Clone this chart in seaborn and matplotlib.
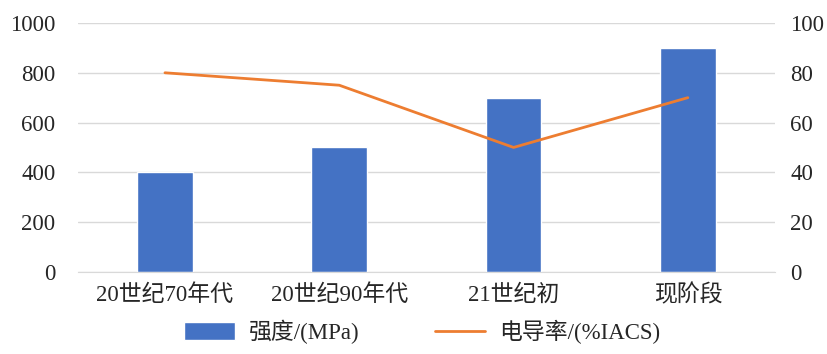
import matplotlib
matplotlib.use('Agg')
import matplotlib.pyplot as plt
import seaborn as sns
import pandas as pd
from matplotlib.patches import Patch
from matplotlib.lines import Line2D

# chart data
categories = ['20世纪70年代', '20世纪90年代', '21世纪初', '现阶段']
strength = [400, 500, 700, 900]        # MPa, left axis
conductivity = [80, 75, 50, 70]        # %IACS, right axis
left_ticks = [0, 200, 400, 600, 800, 1000]
right_ticks = [0, 20, 40, 60, 80, 100]

sns.set_style('white')
plt.rcParams['font.family'] = ['Liberation Serif', 'Noto Sans CJK SC']

df = pd.DataFrame({'period': categories, 'strength': strength, 'cond': conductivity})

fig = plt.figure(figsize=(8.28, 3.54), dpi=100)
ax = fig.add_axes([0.094, 0.232, 0.842, 0.703])

sns.barplot(x='period', y='strength', data=df, color='#4472C4', width=0.32,
            saturation=1, ax=ax, zorder=2)
ax.set_ylim(0, 1000)
ax.set_yticks(left_ticks)
ax.yaxis.grid(True, color='#D9D9D9', linewidth=1, zorder=0)
ax.set_axisbelow(True)
ax.set_xlabel('')
ax.set_ylabel('')
ax.tick_params(axis='x', length=0, labelsize=16.5, pad=9)
ax.tick_params(axis='y', length=0, labelsize=16.5, pad=16)
for s in ['top', 'left', 'right']:
    ax.spines[s].set_visible(False)
ax.spines['bottom'].set_color('#D9D9D9')

ax2 = ax.twinx()
sns.pointplot(x='period', y='cond', data=df, color='#ED7D31', markers='',
              linewidth=2, ax=ax2)
ax2.set_ylim(0, 100)
ax2.set_yticks(right_ticks)
ax2.set_ylabel('')
ax2.tick_params(axis='y', length=0, labelsize=16.5, pad=11)
for s in ['top', 'left', 'right', 'bottom']:
    ax2.spines[s].set_visible(False)
ax.set_xlim(-0.5, 3.5)

handles = [Patch(facecolor='#4472C4', label='强度/(MPa)'),
           Line2D([0], [0], color='#ED7D31', linewidth=2, label='电导率/(%IACS)')]
fig.legend(handles=handles, loc='lower center', bbox_to_anchor=(0.51, -0.03), ncol=2,
           frameon=False, fontsize=16.5, handlelength=2.2, handleheight=0.8,
           columnspacing=3.3, handletextpad=0.6)

fig.savefig('out.png', dpi=100)
